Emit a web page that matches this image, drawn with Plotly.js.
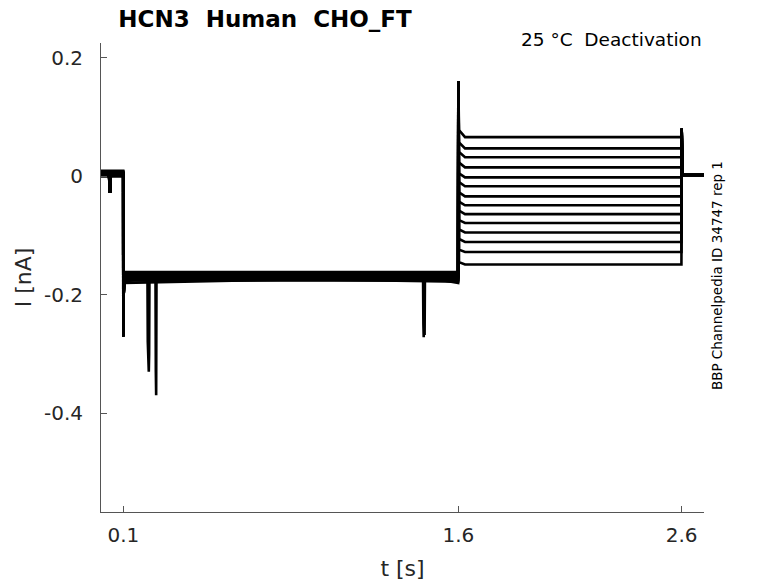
<!DOCTYPE html>
<html>
<head>
<meta charset="utf-8">
<script src="https://cdn.plot.ly/plotly-3.0.1.min.js"></script>
<style>
  html, body { margin: 0; padding: 0; background: #fff; }
  #tester { width: 778px; height: 583px; }
</style>
</head>
<body>
<div id="tester"></div>
<script>
// levels, one entry per sweep (top to bottom)
var sweepStep  = [0.066, 0.047, 0.032, 0.015, -0.002, -0.017, -0.034, -0.049, -0.064, -0.079, -0.095, -0.111, -0.128, -0.149];
var sweepStart = [0.078, 0.057, 0.041, 0.023, 0.005, -0.010, -0.027, -0.043, -0.058, -0.074, -0.090, -0.106, -0.124, -0.145];
var sweepHold  = [-0.164, -0.172, -0.168, -0.178, -0.170, -0.162, -0.180, -0.169, -0.174, -0.166, -0.171, -0.176, -0.163, -0.175];
var sweepPre   = [0.008, 0.002, 0.005, 0.000, 0.006, 0.003, 0.009, 0.001, 0.004, 0.007, 0.002, 0.005, 0.000, 0.006];

// common protocol points (pre pulse, onset spike, step spike, end spike)
var preT = [0, 0.036, 0.040, 0.044, 0.0995];
var preDip = -0.028;
var onsetT = [0.100, 0.1015, 0.104];
var onsetV = [-0.27, -0.20, null];   // null -> sweep hold level
var stepT = [1.599, 1.600, 1.603, 1.630];
var endT = [2.599, 2.600, 2.603, 2.700];
var stepPeak = 0.16;
var endPeak = 0.08;
var postV = 0.002;

// artefacts seen on single sweeps
var dipA_t = [0.208, 0.2095, 0.211, 0.2125, 0.214, 0.2155, 0.217];
var dipA_v = [-0.170, -0.280, -0.300, -0.285, -0.330, -0.300, -0.170];
var dipB_t = [0.244, 0.2455, 0.247, 0.2485];
var dipB_v = [-0.170, -0.330, -0.370, -0.170];
var dipC_t = [1.442, 1.4435, 1.445, 1.4465];
var dipC_v = [-0.170, -0.250, -0.272, -0.170];
var dipD_t = [1.446, 1.4475, 1.449, 1.4505];
var dipD_v = [-0.170, -0.240, -0.268, -0.170];
var dips = { 3: [[dipA_t, dipA_v]], 10: [[dipB_t, dipB_v]], 6: [[dipC_t, dipC_v]], 7: [[dipD_t, dipD_v]] };

var data = [];
for (var i = 0; i < sweepStep.length; i++) {
    var x = preT.slice();
    var y = [sweepPre[i], sweepPre[i], preDip, sweepPre[i], sweepPre[i]];
    for (var k = 0; k < onsetT.length; k++) {
        x.push(onsetT[k]);
        y.push(onsetV[k] === null ? sweepHold[i] : onsetV[k]);
    }
    (dips[i] || []).forEach(function (d) {
        for (var j = 0; j < d[0].length; j++) { x.push(d[0][j]); y.push(d[1][j]); }
    });
    x = x.concat(stepT);
    y = y.concat([sweepHold[i], stepPeak, sweepStart[i], sweepStep[i]]);
    x = x.concat(endT);
    y = y.concat([sweepStep[i], endPeak, postV, postV]);
    data.push({
        x: x, y: y,
        type: 'scatter', mode: 'lines',
        line: { color: '#000', width: 2.6 },
        hoverinfo: 'skip', showlegend: false
    });
}

var yTicks = [0.2, 0, -0.2, -0.4];
var yTickText = ['0.2', '0', '-0.2', '-0.4'];
var xTicks = [0.1, 1.6, 2.6];
var xTickText = ['0.1', '1.6', '2.6'];

var axisFont = { family: 'DejaVu Sans', size: 20, color: '#262626' };

var THISlayout = {
    width: 778,
    height: 583,
    paper_bgcolor: '#fff',
    plot_bgcolor: '#fff',
    margin: { l: 101, r: 74, t: 43, b: 71 },
    font: { family: 'DejaVu Sans', color: '#262626' },
    title: {
        text: '<b>HCN3  Human  CHO_FT</b>',
        font: { family: 'DejaVu Sans', size: 23, color: '#000' },
        xref: 'paper', x: 0.272, xanchor: 'center',
        yref: 'container', y: 0.968, yanchor: 'middle'
    },
    xaxis: {
        range: [0, 2.7],
        showgrid: false, zeroline: false,
        showline: true, linecolor: '#555', linewidth: 1,
        ticks: 'inside', ticklen: 6, tickcolor: '#555',
        tickvals: xTicks, ticktext: xTickText,
        tickfont: axisFont, ticklabelstandoff: 5,
        title: { text: 't [s]', font: { family: 'DejaVu Sans', size: 22, color: '#262626' }, standoff: 14 }
    },
    yaxis: {
        range: [-0.567, 0.225],
        showgrid: false, zeroline: false,
        showline: true, linecolor: '#555', linewidth: 1,
        ticks: 'inside', ticklen: 6, tickcolor: '#555',
        tickvals: yTicks, ticktext: yTickText,
        tickfont: axisFont, ticklabelstandoff: 13,
        title: { text: 'I [nA]', font: { family: 'DejaVu Sans', size: 22, color: '#262626' }, standoff: 6 }
    },
    annotations: [{
        text: '25 °C  Deactivation',
        xref: 'paper', yref: 'paper', x: 1, y: 1.0,
        xanchor: 'right', yanchor: 'bottom', yshift: -9,
        showarrow: false,
        font: { family: 'DejaVu Sans', size: 18.5, color: '#000' }
    }, {
        text: 'BBP Channelpedia ID 34747 rep 1',
        xref: 'paper', yref: 'paper', x: 1, y: 0.503,
        xanchor: 'left', yanchor: 'middle', xshift: 3,
        textangle: -90,
        showarrow: false,
        font: { family: 'DejaVu Sans', size: 13.5, color: '#000' }
    }]
};

var config = { responsive: false, displayModeBar: false, staticPlot: true };

Plotly.newPlot('tester', data, THISlayout, config);
</script>
</body>
</html>
